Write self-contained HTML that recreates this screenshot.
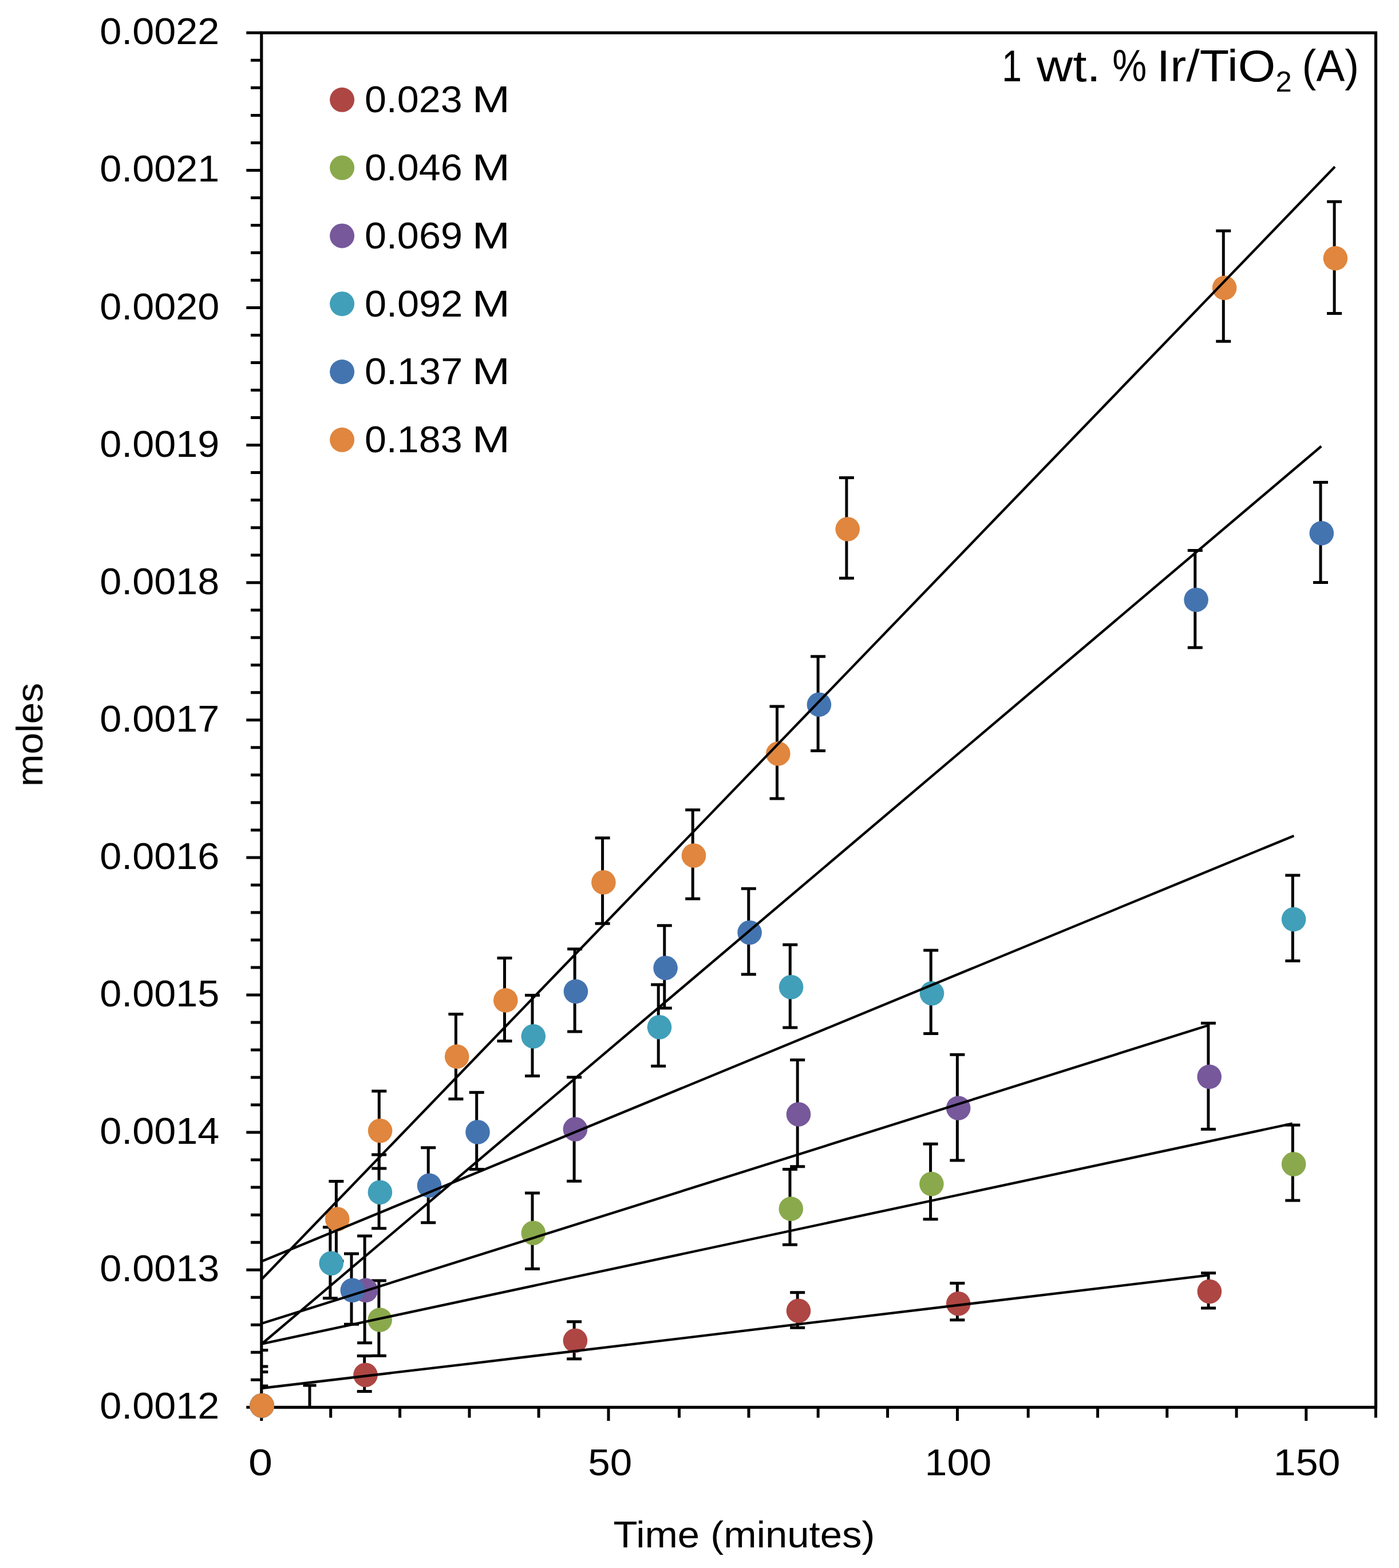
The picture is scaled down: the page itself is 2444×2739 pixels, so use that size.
<!DOCTYPE html>
<html lang="en"><head><meta charset="utf-8"><title>1 wt. % Ir/TiO2 (A) - moles vs time</title>
<style>html,body{margin:0;padding:0;background:#fff}svg{display:block}text{font-family:"Liberation Sans", Arial, Helvetica, sans-serif;fill:#000}#chart{filter:blur(0.6px)}</style></head><body>
<svg width="2444" height="2739" viewBox="0 0 2444 2739">
<rect width="2444" height="2739" fill="#fff"/>
<g id="chart">
<defs><clipPath id="plot"><rect x="456.8" y="57.3" width="1946.7" height="2403.0"/></clipPath></defs>
<path d="M430.3 57.3H456.8M438.0 105.3H456.8M438.0 153.3H456.8M438.0 201.4H456.8M438.0 249.4H456.8M430.3 297.4H456.8M438.0 345.4H456.8M438.0 393.4H456.8M438.0 441.5H456.8M438.0 489.5H456.8M430.3 537.5H456.8M438.0 585.5H456.8M438.0 633.5H456.8M438.0 681.6H456.8M438.0 729.6H456.8M430.3 777.6H456.8M438.0 825.6H456.8M438.0 873.6H456.8M438.0 921.7H456.8M438.0 969.7H456.8M430.3 1017.7H456.8M438.0 1065.7H456.8M438.0 1113.7H456.8M438.0 1161.8H456.8M438.0 1209.8H456.8M430.3 1257.8H456.8M438.0 1305.8H456.8M438.0 1353.8H456.8M438.0 1401.9H456.8M438.0 1449.9H456.8M430.3 1497.9H456.8M438.0 1545.9H456.8M438.0 1593.9H456.8M438.0 1642.0H456.8M438.0 1690.0H456.8M430.3 1738.0H456.8M438.0 1786.0H456.8M438.0 1834.0H456.8M438.0 1882.1H456.8M438.0 1930.1H456.8M430.3 1978.1H456.8M438.0 2026.1H456.8M438.0 2074.1H456.8M438.0 2122.2H456.8M438.0 2170.2H456.8M430.3 2218.2H456.8M438.0 2266.2H456.8M438.0 2314.2H456.8M438.0 2362.3H456.8M438.0 2410.3H456.8M430.3 2458.3H456.8M456.8 2458.3V2482.0M577.7 2458.3V2476.5M698.6 2458.3V2476.5M820.0 2458.3V2476.5M941.1 2458.3V2476.5M1063.0 2458.3V2482.0M1186.5 2458.3V2476.5M1308.0 2458.3V2476.5M1429.2 2458.3V2476.5M1550.6 2458.3V2476.5M1672.5 2458.3V2482.0M1796.2 2458.3V2476.5M1917.6 2458.3V2476.5M2038.8 2458.3V2476.5M2160.1 2458.3V2476.5M2281.8 2458.3V2482.0M2403.4 2458.3V2476.5" stroke="#000" stroke-width="5.0" fill="none"/>
<g clip-path="url(#plot)"><path d="M456.8 2421.0H468.3M636.7 2368.6V2430.5M623.7 2368.6H649.7M623.7 2430.5H649.7M1003.1 2308.8V2373.7M990.1 2308.8H1016.1M990.1 2373.7H1016.1M1393.2 2257.7V2319.3M1380.2 2257.7H1406.2M1380.2 2319.3H1406.2M1672.4 2241.5V2305.8M1659.4 2241.5H1685.4M1659.4 2305.8H1685.4M2111.1 2223.7V2285.1M2098.1 2223.7H2124.1M2098.1 2285.1H2124.1M456.8 2387.0H468.3M661.9 2236.9V2368.3M648.9 2236.9H674.9M648.9 2368.3H674.9M930.0 2084.0V2216.5M917.0 2084.0H943.0M917.0 2216.5H943.0M1380.0 2042.4V2174.3M1367.0 2042.4H1393.0M1367.0 2174.3H1393.0M1625.6 1998.2V2129.8M1612.6 1998.2H1638.6M1612.6 2129.8H1638.6M2258.3 1965.3V2097.1M2245.3 1965.3H2271.3M2245.3 2097.1H2271.3M456.8 2358.5H468.3M637.1 2159.0V2345.7M624.1 2159.0H650.1M624.1 2345.7H650.1M1003.1 1881.8V2063.2M990.1 1881.8H1016.1M990.1 2063.2H1016.1M1393.2 1851.5V2037.8M1380.2 1851.5H1406.2M1380.2 2037.8H1406.2M1672.4 1842.3V2026.9M1659.4 1842.3H1685.4M1659.4 2026.9H1685.4M2110.9 1787.3V1972.5M2097.9 1787.3H2123.9M2097.9 1972.5H2123.9M456.8 2396.4H468.3M576.9 2143.7V2267.7M563.9 2143.7H589.9M563.9 2267.7H589.9M662.1 2017.0V2145.7M649.1 2017.0H675.1M649.1 2145.7H675.1M930.0 1738.5V1879.6M917.0 1738.5H943.0M917.0 1879.6H943.0M1150.2 1720.1V1862.2M1137.2 1720.1H1163.2M1137.2 1862.2H1163.2M1380.3 1650.2V1795.0M1367.3 1650.2H1393.3M1367.3 1795.0H1393.3M1626.2 1660.0V1805.4M1613.2 1660.0H1639.2M1613.2 1805.4H1639.2M2258.3 1529.1V1678.5M2245.3 1529.1H2271.3M2245.3 1678.5H2271.3M456.8 2396.4H468.3M614.0 2189.9V2313.3M601.0 2189.9H627.0M601.0 2313.3H627.0M748.2 2004.8V2135.8M735.2 2004.8H761.2M735.2 2135.8H761.2M832.7 1908.2V2042.4M819.7 1908.2H845.7M819.7 2042.4H845.7M1004.1 1657.7V1802.1M991.1 1657.7H1017.1M991.1 1802.1H1017.1M1160.8 1616.8V1761.0M1147.8 1616.8H1173.8M1147.8 1761.0H1173.8M1307.8 1552.2V1702.0M1294.8 1552.2H1320.8M1294.8 1702.0H1320.8M1429.1 1146.7V1311.5M1416.1 1146.7H1442.1M1416.1 1311.5H1442.1M2087.8 961.4V1131.2M2074.8 961.4H2100.8M2074.8 1131.2H2100.8M2307.0 842.4V1017.5M2294.0 842.4H2320.0M2294.0 1017.5H2320.0M456.8 2396.4H468.3M587.4 2063.6V2203.0M574.4 2063.6H600.4M574.4 2203.0H600.4M662.3 1905.9V2041.1M649.3 1905.9H675.3M649.3 2041.1H675.3M796.4 1771.4V1919.8M783.4 1771.4H809.4M783.4 1919.8H809.4M881.5 1673.5V1818.6M868.5 1673.5H894.5M868.5 1818.6H894.5M1052.6 1463.8V1613.2M1039.6 1463.8H1065.6M1039.6 1613.2H1065.6M1210.2 1414.7V1570.1M1197.2 1414.7H1223.2M1197.2 1570.1H1223.2M1357.5 1234.1V1394.9M1344.5 1234.1H1370.5M1344.5 1394.9H1370.5M1478.9 834.5V1009.9M1465.9 834.5H1491.9M1465.9 1009.9H1491.9M2137.3 403.3V596.2M2124.3 403.3H2150.3M2124.3 596.2H2150.3M2331.1 352.2V547.4M2318.1 352.2H2344.1M2318.1 547.4H2344.1M541.0 2420.0V2462M529.5 2420.0H552.5" stroke="#000" stroke-width="5.0" fill="none"/></g>
<rect x="456.8" y="57.3" width="1946.7" height="2401.0" fill="none" stroke="#000" stroke-width="5.2"/>
<g fill="#AE4643"><circle cx="457.6" cy="2455.3" r="21.3"/><circle cx="638.5" cy="2401.8" r="21.3"/><circle cx="1004.9" cy="2341.8" r="21.3"/><circle cx="1395.0" cy="2289.7" r="21.3"/><circle cx="1674.2" cy="2277.3" r="21.3"/><circle cx="2112.9" cy="2256.0" r="21.3"/></g>
<g fill="#8AA94C"><circle cx="457.6" cy="2455.3" r="21.3"/><circle cx="663.7" cy="2305.6" r="21.3"/><circle cx="931.8" cy="2153.8" r="21.3"/><circle cx="1381.8" cy="2111.6" r="21.3"/><circle cx="1627.4" cy="2068.1" r="21.3"/><circle cx="2260.1" cy="2033.5" r="21.3"/></g>
<g fill="#76589B"><circle cx="457.6" cy="2455.3" r="21.3"/><circle cx="638.9" cy="2253.9" r="21.3"/><circle cx="1004.9" cy="1972.5" r="21.3"/><circle cx="1395.0" cy="1946.5" r="21.3"/><circle cx="1674.2" cy="1935.6" r="21.3"/><circle cx="2112.7" cy="1880.9" r="21.3"/></g>
<g fill="#419FB9"><circle cx="457.6" cy="2455.3" r="21.3"/><circle cx="578.7" cy="2206.7" r="21.3"/><circle cx="663.9" cy="2082.7" r="21.3"/><circle cx="931.8" cy="1810.3" r="21.3"/><circle cx="1152.0" cy="1794.3" r="21.3"/><circle cx="1382.1" cy="1724.3" r="21.3"/><circle cx="1628.0" cy="1735.2" r="21.3"/><circle cx="2260.1" cy="1605.9" r="21.3"/></g>
<g fill="#4474B0"><circle cx="457.6" cy="2455.3" r="21.3"/><circle cx="615.8" cy="2253.9" r="21.3"/><circle cx="750.0" cy="2070.9" r="21.3"/><circle cx="834.5" cy="1977.5" r="21.3"/><circle cx="1005.9" cy="1731.9" r="21.3"/><circle cx="1162.6" cy="1690.8" r="21.3"/><circle cx="1309.6" cy="1629.0" r="21.3"/><circle cx="1430.9" cy="1230.8" r="21.3"/><circle cx="2089.6" cy="1047.8" r="21.3"/><circle cx="2308.8" cy="931.4" r="21.3"/></g>
<g fill="#E0863E"><circle cx="457.6" cy="2455.3" r="21.3"/><circle cx="589.2" cy="2129.5" r="21.3"/><circle cx="664.1" cy="1975.2" r="21.3"/><circle cx="798.2" cy="1845.6" r="21.3"/><circle cx="883.3" cy="1747.4" r="21.3"/><circle cx="1054.4" cy="1541.3" r="21.3"/><circle cx="1212.0" cy="1494.5" r="21.3"/><circle cx="1359.3" cy="1316.5" r="21.3"/><circle cx="1480.7" cy="924.2" r="21.3"/><circle cx="2139.1" cy="502.9" r="21.3"/><circle cx="2332.9" cy="451.1" r="21.3"/></g>
<path d="M456.8 2235.0L2332.0 291.3M456.8 2348.0L2308.2 779.5M456.8 2203.5L2260.4 1459.9M456.8 2312.0L2111.0 1791.0M456.8 2347.6L2257.7 1962.6M456.8 2425.0L825.0 2381.6L1395.0 2313.2L2112.6 2227.4" stroke="#000" stroke-width="4.3" fill="none" stroke-linecap="butt" stroke-linejoin="round"/>
<text x="174.2" y="77.3" font-size="65.0" textLength="209.1" lengthAdjust="spacingAndGlyphs">0.0022</text>
<text x="174.2" y="317.4" font-size="65.0" textLength="209.1" lengthAdjust="spacingAndGlyphs">0.0021</text>
<text x="174.2" y="557.5" font-size="65.0" textLength="209.1" lengthAdjust="spacingAndGlyphs">0.0020</text>
<text x="174.2" y="797.6" font-size="65.0" textLength="209.1" lengthAdjust="spacingAndGlyphs">0.0019</text>
<text x="174.2" y="1037.7" font-size="65.0" textLength="209.1" lengthAdjust="spacingAndGlyphs">0.0018</text>
<text x="174.2" y="1277.8" font-size="65.0" textLength="209.1" lengthAdjust="spacingAndGlyphs">0.0017</text>
<text x="174.2" y="1517.9" font-size="65.0" textLength="209.1" lengthAdjust="spacingAndGlyphs">0.0016</text>
<text x="174.2" y="1758.0" font-size="65.0" textLength="209.1" lengthAdjust="spacingAndGlyphs">0.0015</text>
<text x="174.2" y="1998.1" font-size="65.0" textLength="209.1" lengthAdjust="spacingAndGlyphs">0.0014</text>
<text x="174.2" y="2238.2" font-size="65.0" textLength="209.1" lengthAdjust="spacingAndGlyphs">0.0013</text>
<text x="174.2" y="2478.3" font-size="65.0" textLength="209.1" lengthAdjust="spacingAndGlyphs">0.0012</text>
<text x="434.1" y="2577.2" font-size="65.0" textLength="42.0" lengthAdjust="spacingAndGlyphs">0</text>
<text x="1027.3" y="2577.2" font-size="65.0" textLength="77.0" lengthAdjust="spacingAndGlyphs">50</text>
<text x="1615.5" y="2577.2" font-size="65.0" textLength="116.7" lengthAdjust="spacingAndGlyphs">100</text>
<text x="2224.8" y="2577.2" font-size="65.0" textLength="116.7" lengthAdjust="spacingAndGlyphs">150</text>
<text x="1071.6" y="2703.4" font-size="65.0" textLength="456.9" lengthAdjust="spacingAndGlyphs">Time (minutes)</text>
<text transform="translate(74.2 1374.1) rotate(-90)" font-size="65.0" textLength="181.2" lengthAdjust="spacingAndGlyphs">moles</text>
<circle cx="597.6" cy="174.3" r="21.5" fill="#AE4643"/>
<text xml:space="preserve" font-size="65.0" y="196.2"><tspan x="636.9" y="196.2" textLength="170.8" lengthAdjust="spacingAndGlyphs">0.023</tspan><tspan x="802.6" y="196.2" textLength="88.2" lengthAdjust="spacingAndGlyphs"> M</tspan></text>
<circle cx="597.6" cy="293.1" r="21.5" fill="#8AA94C"/>
<text xml:space="preserve" font-size="65.0" y="315.0"><tspan x="636.9" y="315.0" textLength="170.8" lengthAdjust="spacingAndGlyphs">0.046</tspan><tspan x="802.6" y="315.0" textLength="88.2" lengthAdjust="spacingAndGlyphs"> M</tspan></text>
<circle cx="597.6" cy="411.9" r="21.5" fill="#76589B"/>
<text xml:space="preserve" font-size="65.0" y="433.8"><tspan x="636.9" y="433.8" textLength="171.0" lengthAdjust="spacingAndGlyphs">0.069</tspan><tspan x="802.6" y="433.8" textLength="88.2" lengthAdjust="spacingAndGlyphs"> M</tspan></text>
<circle cx="597.6" cy="530.7" r="21.5" fill="#419FB9"/>
<text xml:space="preserve" font-size="65.0" y="552.6"><tspan x="636.9" y="552.6" textLength="171.4" lengthAdjust="spacingAndGlyphs">0.092</tspan><tspan x="802.6" y="552.6" textLength="88.2" lengthAdjust="spacingAndGlyphs"> M</tspan></text>
<circle cx="597.6" cy="649.5" r="21.5" fill="#4474B0"/>
<text xml:space="preserve" font-size="65.0" y="671.4"><tspan x="636.9" y="671.4" textLength="171.4" lengthAdjust="spacingAndGlyphs">0.137</tspan><tspan x="802.6" y="671.4" textLength="88.2" lengthAdjust="spacingAndGlyphs"> M</tspan></text>
<circle cx="597.6" cy="768.3" r="21.5" fill="#E0863E"/>
<text xml:space="preserve" font-size="65.0" y="790.2"><tspan x="636.9" y="790.2" textLength="170.8" lengthAdjust="spacingAndGlyphs">0.183</tspan><tspan x="802.6" y="790.2" textLength="88.2" lengthAdjust="spacingAndGlyphs"> M</tspan></text>
<text xml:space="preserve" font-size="78.5" y="141.8"><tspan x="1750.3" y="141.8" textLength="34.7" lengthAdjust="spacingAndGlyphs">1</tspan><tspan x="1786.8" y="141.8" textLength="135.9" lengthAdjust="spacingAndGlyphs"> wt.</tspan><tspan x="1924.4" y="141.8" textLength="78.7" lengthAdjust="spacingAndGlyphs"> %</tspan><tspan x="1997.4" y="141.8" textLength="230.9" lengthAdjust="spacingAndGlyphs"> Ir/TiO</tspan><tspan x="2228.4" y="160.0" textLength="28.2" lengthAdjust="spacingAndGlyphs" font-size="50.0">2</tspan><tspan x="2253.8" y="141.8" textLength="120.2" lengthAdjust="spacingAndGlyphs"> (A)</tspan></text>
</g>
</svg></body></html>
